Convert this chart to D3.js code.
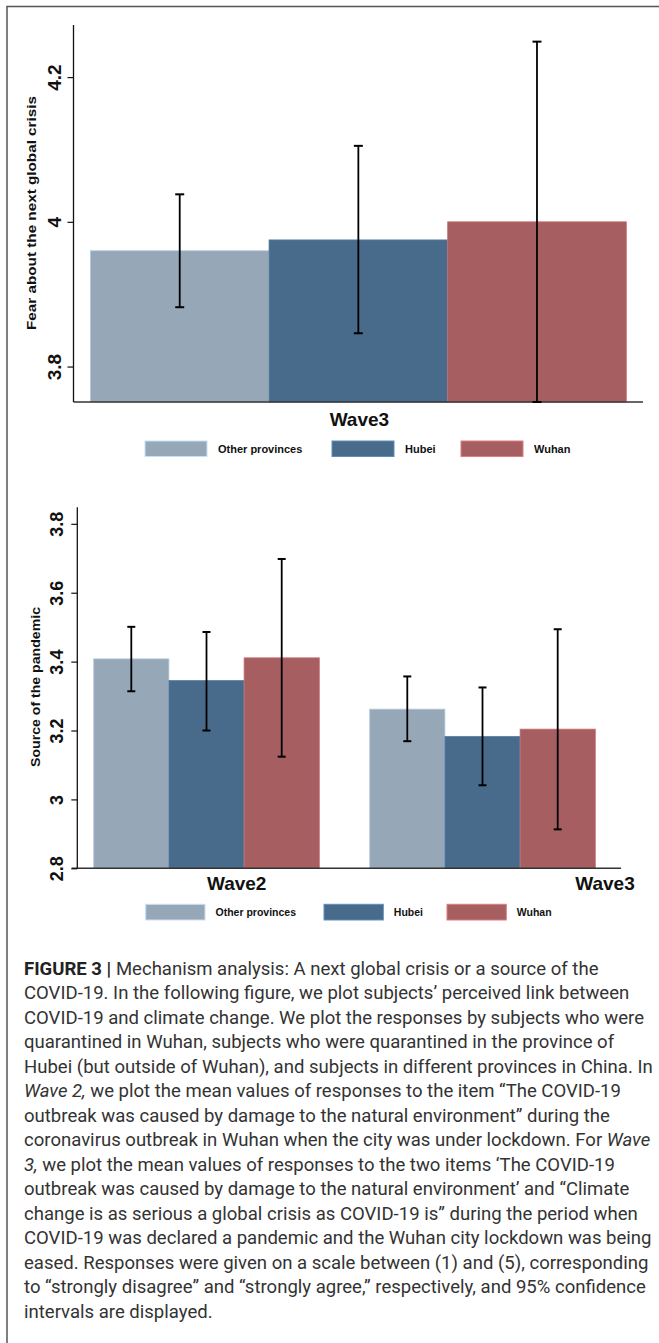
<!DOCTYPE html>
<html>
<head>
<meta charset="utf-8">
<script src="https://cdn.jsdelivr.net/npm/d3@7"></script>
<style>
  html, body { margin: 0; padding: 0; background: #fff; }
  svg { display: block; }
</style>
</head>
<body>
<svg id="fig" width="659" height="1343"></svg>
<script>
// groups and colours
const groups = ["Other provinces", "Hubei", "Wuhan"];
const colors = ["#96a8b8", "#486b8c", "#a65e61"];

// panel 1: fear about the next global crisis (Wave3 only)
const p1Waves = ["Wave3"];
const p1Mean = [[3.960, 3.975, 4.000]];
const p1Low = [[3.882, 3.846, 3.751]];
const p1High = [[4.038, 4.105, 4.249]];
const p1Ticks = [3.8, 4.0, 4.2];
const p1TickLabels = ["3.8", "4", "4.2"];

// panel 2: source of the pandemic (Wave2, Wave3)
const p2Waves = ["Wave2", "Wave3"];
const p2Mean = [[3.408, 3.345, 3.411], [3.262, 3.183, 3.204]];
const p2Low = [[3.314, 3.200, 3.124], [3.169, 3.041, 2.913]];
const p2High = [[3.501, 3.486, 3.698], [3.357, 3.325, 3.494]];
const p2Ticks = [2.8, 3.0, 3.2, 3.4, 3.6, 3.8];
const p2TickLabels = ["2.8", "3", "3.2", "3.4", "3.6", "3.8"];

const captionLines = [
  [["b", "FIGURE 3 | "], ["n", "Mechanism analysis: A next global crisis or a source of the"]],
  [["n", "COVID-19. In the following figure, we plot subjects\u2019 perceived link between"]],
  [["n", "COVID-19 and climate change. We plot the responses by subjects who were"]],
  [["n", "quarantined in Wuhan, subjects who were quarantined in the province of"]],
  [["n", "Hubei (but outside of Wuhan), and subjects in different provinces in China. In"]],
  [["i", "Wave 2,"], ["n", " we plot the mean values of responses to the item \u201cThe COVID-19"]],
  [["n", "outbreak was caused by damage to the natural environment\u201d during the"]],
  [["n", "coronavirus outbreak in Wuhan when the city was under lockdown. For "], ["i", "Wave"]],
  [["i", "3,"], ["n", " we plot the mean values of responses to the two items \u2018The COVID-19"]],
  [["n", "outbreak was caused by damage to the natural environment\u2019 and \u201cClimate"]],
  [["n", "change is as serious a global crisis as COVID-19 is\u201d during the period when"]],
  [["n", "COVID-19 was declared a pandemic and the Wuhan city lockdown was being"]],
  [["n", "eased. Responses were given on a scale between (1) and (5), corresponding"]],
  [["n", "to \u201cstrongly disagree\u201d and \u201cstrongly agree,\u201d respectively, and 95% confidence"]],
  [["n", "intervals are displayed."]]
];

const svg = d3.select("#fig");
const FONT = "'Liberation Sans', Arial, Helvetica, sans-serif";

svg.append("rect").attr("width", 659).attr("height", 1343).attr("fill", "#fff");

// outer frame (left and top edges visible)
svg.append("path")
  .attr("d", "M7,1343 V6.5 H659")
  .attr("fill", "none")
  .attr("stroke", "#555")
  .attr("stroke-width", 1.5);

function drawPanel(cfg) {
  const g = svg.append("g");
  const y = d3.scaleLinear().domain(cfg.yDomain).range([cfg.bottom, cfg.top]);
  const xWave = d3.scaleBand().domain(cfg.waves).range(cfg.barRange).paddingInner(cfg.gap).paddingOuter(0);
  const xGrp = d3.scaleBand().domain(groups).range([0, xWave.bandwidth()]);

  const rows = [];
  cfg.waves.forEach((w, wi) => {
    groups.forEach((grp, gi) => {
      rows.push({ wave: w, grp: grp, gi: gi, mean: cfg.mean[wi][gi], lo: cfg.low[wi][gi], hi: cfg.high[wi][gi] });
    });
  });

  // bars
  g.selectAll("rect.bar").data(rows).enter().append("rect")
    .attr("class", "bar")
    .attr("x", d => xWave(d.wave) + xGrp(d.grp))
    .attr("width", xGrp.bandwidth())
    .attr("y", d => y(d.mean))
    .attr("height", d => y(cfg.yDomain[0]) - y(d.mean))
    .attr("fill", d => colors[d.gi])
    .attr("stroke", d => d3.color(colors[d.gi]).brighter(0.5))
    .attr("stroke-width", 0.8);

  // x axis line
  g.append("line")
    .attr("x1", cfg.xAxisRange[0]).attr("x2", cfg.xAxisRange[1])
    .attr("y1", cfg.bottom).attr("y2", cfg.bottom)
    .attr("stroke", "#333").attr("stroke-width", 1.5);

  // y axis
  const yAxis = d3.axisLeft(y).tickValues(cfg.ticks).tickSize(6).tickFormat((d, i) => cfg.tickLabels[i]);
  const ax = g.append("g").attr("transform", `translate(${cfg.axisX},0)`).call(yAxis);
  ax.select(".domain").attr("d", `M0,${cfg.bottom}V${cfg.top}`).attr("stroke", "#111").attr("stroke-width", 1.3);
  ax.selectAll(".tick line").attr("stroke", "#111").attr("stroke-width", 1.2);
  ax.selectAll(".tick text")
    .attr("x", 0).attr("y", 0).attr("dy", null)
    .attr("transform", `translate(${-cfg.labelGap},0) rotate(-90)`)
    .attr("text-anchor", "middle")
    .style("font-family", FONT).style("font-weight", "bold")
    .style("font-size", cfg.tickFont + "px").attr("fill", "#111");

  // error bars
  const cap = cfg.cap;
  const eb = g.selectAll("g.err").data(rows).enter().append("g").attr("class", "err")
    .attr("stroke", "#000").attr("stroke-width", 1.8);
  const cx = d => xWave(d.wave) + xGrp(d.grp) + xGrp.bandwidth() / 2;
  eb.append("line").attr("x1", cx).attr("x2", cx).attr("y1", d => y(d.lo)).attr("y2", d => y(d.hi));
  eb.append("line").attr("x1", d => cx(d) - cap / 2).attr("x2", d => cx(d) + cap / 2).attr("y1", d => y(d.hi)).attr("y2", d => y(d.hi)).attr("stroke-width", 2);
  eb.append("line").attr("x1", d => cx(d) - cap / 2).attr("x2", d => cx(d) + cap / 2).attr("y1", d => y(d.lo)).attr("y2", d => y(d.lo)).attr("stroke-width", 2);

  // y title
  g.append("text")
    .attr("transform", `translate(${cfg.titleX},${cfg.titleY}) rotate(-90)`)
    .attr("text-anchor", "middle")
    .attr("textLength", cfg.titleLen).attr("lengthAdjust", "spacingAndGlyphs")
    .style("font-family", FONT).style("font-weight", "bold").style("font-size", cfg.titleFont + "px")
    .attr("fill", "#111")
    .text(cfg.title);

  // wave labels
  g.selectAll("text.wave").data(cfg.waves).enter().append("text")
    .attr("class", "wave")
    .attr("x", (d, i) => xWave(d) + cfg.waveLabelShift[i])
    .attr("y", cfg.waveLabelY)
    .attr("text-anchor", "middle")
    .style("font-family", FONT).style("font-weight", "bold").style("font-size", "19px")
    .attr("fill", "#111")
    .text(d => d);

  // legend
  const lg = g.append("g");
  const items = lg.selectAll("g").data(groups).enter().append("g")
    .attr("transform", (d, i) => `translate(${cfg.legendX[i]},${cfg.legendY})`);
  items.append("rect")
    .attr("width", cfg.swatchW).attr("height", cfg.swatchH)
    .attr("fill", (d, i) => colors[i])
    .attr("stroke", (d, i) => d3.color(colors[i]).brighter(0.8))
    .attr("stroke-width", 1);
  items.append("text")
    .attr("x", cfg.swatchW + cfg.legendTextGap)
    .attr("y", cfg.swatchH / 2 + 4)
    .style("font-family", FONT).style("font-weight", "bold").style("font-size", cfg.legendFont + "px")
    .attr("fill", "#111")
    .text(d => d);
}

drawPanel({
  waves: p1Waves, mean: p1Mean, low: p1Low, high: p1High,
  ticks: p1Ticks, tickLabels: p1TickLabels,
  yDomain: [3.751, 4.272], top: 25, bottom: 402,
  barRange: [90.4, 626.3], gap: 0,
  xAxisRange: [73.5, 643], axisX: 73.5,
  labelGap: 13, tickFont: 19, cap: 9,
  title: "Fear about the next global crisis", titleX: 36, titleY: 213, titleLen: 234, titleFont: 13,
  waveLabelShift: [269], waveLabelY: 426,
  legendX: [145, 332, 461], legendY: 441, swatchW: 62, swatchH: 15.5, legendTextGap: 11, legendFont: 11
});

drawPanel({
  waves: p2Waves, mean: p2Mean, low: p2Low, high: p2High,
  ticks: p2Ticks, tickLabels: p2TickLabels,
  yDomain: [2.8, 3.848], top: 507.3, bottom: 868.3,
  barRange: [93.7, 595.3], gap: 0.1826,
  xAxisRange: [71.7, 621], axisX: 77.3,
  labelGap: 14, tickFont: 18, cap: 8,
  title: "Source of the pandemic", titleX: 40, titleY: 687, titleLen: 160, titleFont: 12,
  waveLabelShift: [143, 235.3], waveLabelY: 890,
  legendX: [145.7, 324, 447], legendY: 904.3, swatchW: 59.3, swatchH: 15.7, legendTextGap: 10.5, legendFont: 10.5
});

// caption
const cap = svg.append("g").attr("class", "caption");
const lineH = 24.5;
const lines = cap.selectAll("text").data(captionLines).enter().append("text")
  .attr("x", 0)
  .attr("y", (d, i) => 975 + i * lineH)
  .style("font-family", "Roboto, 'Liberation Sans', sans-serif")
  .style("font-size", "18px")
  .attr("fill", "#333");
lines.selectAll("tspan").data(d => d).enter().append("tspan")
  .style("font-weight", d => d[0] === "b" ? "bold" : "normal")
  .style("font-style", d => d[0] === "i" ? "italic" : "normal")
  .attr("fill", d => d[0] === "b" ? "#222" : null)
  .text(d => d[1]);
const refW = lines.filter((d, i) => i === 11).node().getComputedTextLength();
const k = 628 / refW;
cap.attr("transform", `translate(24,0) scale(${k},1)`);
</script>
</body>
</html>
